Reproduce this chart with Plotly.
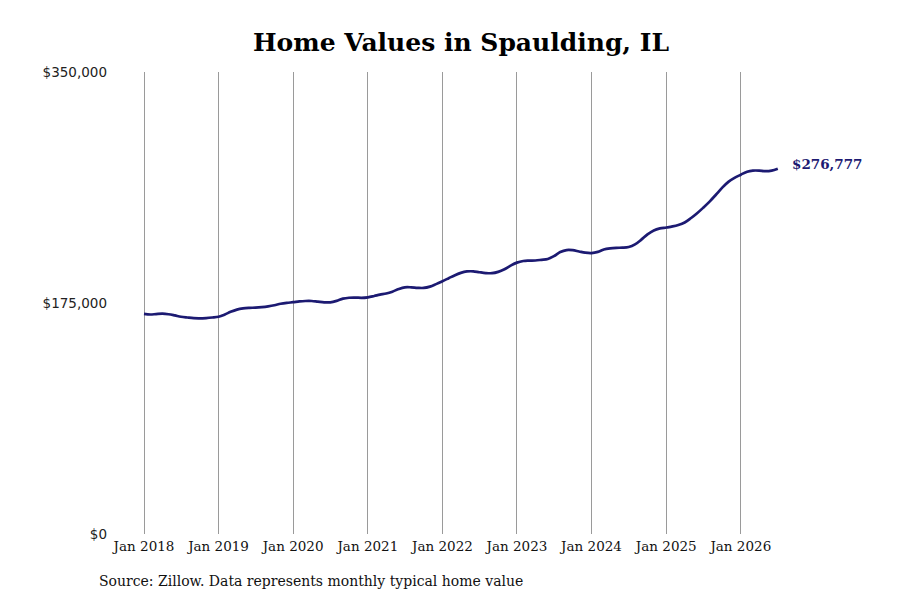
import plotly.graph_objects as go
import pandas as pd

start_month = "2018-01-01"
values = [
    # 2018
    166700, 166300, 166600, 166900, 166500, 165600, 164600, 164000, 163500, 163400, 163600, 164000,
    # 2019
    164600, 166300, 168300, 170000, 170900, 171300, 171500, 171900, 172500, 173300, 174400, 175100,
    # 2020
    175600, 176200, 176500, 176500, 176000, 175500, 175500, 176600, 178300, 179000, 179100, 178900,
    # 2021
    179300, 180300, 181300, 182200, 183600, 185600, 186900, 186900, 186500, 186400, 187400, 189300,
    # 2022
    191500, 193800, 195900, 197800, 198900, 199000, 198300, 197700, 197600, 198600, 200600, 203300,
    # 2023
    205600, 206800, 207100, 207200, 207700, 208300, 210500, 213600, 215100, 215000, 214000, 213100,
    # 2024
    212800, 213700, 215500, 216400, 216800, 216900, 217400, 219400, 223000, 227000, 230000, 231500,
    # 2025
    232200, 233000, 234100, 236000, 239200, 243000, 247200, 251800, 257000, 262200, 266800, 269800,
    # 2026
    272200, 274500, 275300, 275300, 274900, 275300, 276777,
]
dates = pd.date_range(start_month, periods=len(values), freq="MS")

tick_dates = pd.date_range("2018-01-01", "2026-01-01", freq="YS")
tick_labels = [d.strftime("Jan %Y") for d in tick_dates]
y_ticks = [0, 175000, 350000]
y_labels = ["$0", "$175,000", "$350,000"]

line_color = "#1c1a72"

fig = go.Figure()
fig.add_trace(go.Scatter(
    x=dates, y=values, mode="lines",
    line=dict(color=line_color, width=2.7, shape="spline", smoothing=1.0),
    hoverinfo="skip", showlegend=False,
))

fig.add_annotation(
    x=dates[-1], y=values[-1], xref="x", yref="y",
    text=f"<b>${values[-1]:,.0f}</b>", showarrow=False,
    xanchor="left", yanchor="middle", xshift=12, yshift=5,
    font=dict(family="DejaVu Serif", size=13.5, color=line_color),
)

fig.add_annotation(
    x=-0.026, y=-0.1017, xref="paper", yref="paper",
    text="Source: Zillow. Data represents monthly typical home value",
    showarrow=False, xanchor="left", yanchor="middle",
    font=dict(family="DejaVu Serif", size=14, color="#111111"),
)

fig.update_layout(
    width=892, height=592,
    margin=dict(l=107, r=93, t=64, b=66, autoexpand=False),
    paper_bgcolor="white", plot_bgcolor="white",
    title=dict(
        text="<b>Home Values in Spaulding, IL</b>",
        x=0.5, xref="paper", xanchor="center",
        y=1 - 34 / 592, yref="container", yanchor="middle",
        font=dict(family="DejaVu Serif", size=25, color="#000000"),
    ),
    xaxis=dict(
        range=["2017-08-12", "2026-11-21"],
        tickvals=tick_dates, ticktext=tick_labels,
        showgrid=True, gridcolor="#9a9a9a", gridwidth=1,
        zeroline=False, showline=False, ticks="",
        ticklabelstandoff=2,
        tickfont=dict(family="DejaVu Serif", size=13.5, color="#111111"),
    ),
    yaxis=dict(
        range=[0, 350000],
        tickvals=y_ticks, ticktext=y_labels,
        showgrid=False, zeroline=False, showline=False, ticks="",
        ticklabelstandoff=7,
        tickfont=dict(family="DejaVu Sans", size=13.5, color="#222222"),
    ),
)

fig.write_html("out.html")
